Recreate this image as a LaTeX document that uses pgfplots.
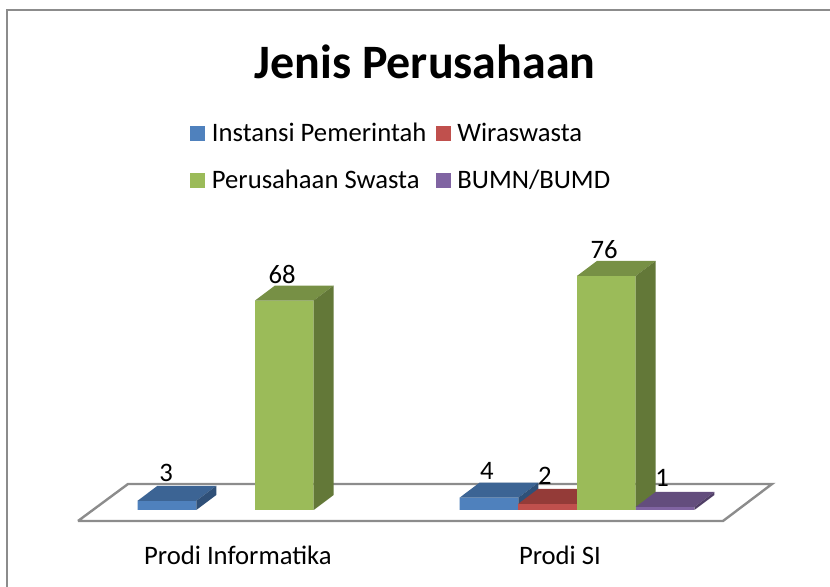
\documentclass[border=0pt]{standalone}
\usepackage{pgfplots}
\pgfplotsset{compat=1.18}
\usepackage{fontspec}
\setmainfont{Carlito}
% front, top and side shades of each series
\definecolor{bluef}{HTML}{4F81BD}
\definecolor{bluet}{HTML}{3C6494}
\definecolor{blues}{HTML}{2F5078}
\definecolor{redf}{HTML}{C0504D}
\definecolor{redt}{HTML}{943B38}
\definecolor{reds}{HTML}{7A302E}
\definecolor{greenf}{HTML}{9BBB59}
\definecolor{greent}{HTML}{779045}
\definecolor{greens}{HTML}{637838}
\definecolor{purplef}{HTML}{8064A2}
\definecolor{purplet}{HTML}{634D7D}
\definecolor{purples}{HTML}{503E66}
\definecolor{framec}{HTML}{8C8C8C}

\begin{document}
\begin{tikzpicture}
\begin{axis}[
    scale only axis,
    width=622.5pt, height=440.25pt,
    xmin=-0.7919, xmax=1.7857,
    ymin=-25, ymax=165.58,
    hide axis,
    clip=true,
    legend columns=2,
    legend cell align=left,
    legend image code/.code={\fill[#1] (0pt,-5.6pt) rectangle (11.25pt,5.6pt);},
    legend style={
        at={(0.2289,0.7955)}, anchor=north west,
        draw=none, fill=none, font=\fontsize{20}{22}\selectfont,
        inner sep=0pt, row sep=16.25pt,
        /tikz/every even column/.append style={column sep=5pt},
        /tikz/every odd column/.append style={column sep=3pt},
    },
]
\coordinate (sw) at (rel axis cs:0,0);
\coordinate (ne) at (rel axis cs:1,1);
% chart frame
\addplot[framec, line width=1.5pt, forget plot] coordinates {
    (-0.770,-25) (-0.770,162.3) (1.7857,162.3)
};
% floor plate
\addplot[fill=white, draw=framec, line width=1.8pt, forget plot] coordinates {
    (-0.5497,-3.57) (1.4534,-3.57) (1.6056,8.44) (-0.3944,8.44) (-0.5497,-3.57)
};

% ── Instansi Pemerintah ──
\addplot[ybar, bar width=0.1823, bar shift=-0.27345, fill=bluef, draw=none] coordinates {(0,3) (1,4)};
\addlegendentry{Instansi Pemerintah}
\addplot[fill=bluet, draw=none, forget plot] coordinates {(-0.3646,3) (-0.1823,3) (-0.1203,7.87) (-0.3026,7.87)};
\addplot[fill=blues, draw=none, forget plot] coordinates {(-0.1823,0) (-0.1823,3) (-0.1203,7.87) (-0.1203,4.87)};
\addplot[fill=bluet, draw=none, forget plot] coordinates {(0.6354,4) (0.8177,4) (0.8797,8.87) (0.6974,8.87)};
\addplot[fill=blues, draw=none, forget plot] coordinates {(0.8177,0) (0.8177,4) (0.8797,8.87) (0.8797,4.87)};

% ── Wiraswasta ── (Prodi Informatika is 0, nothing drawn)
\addplot[ybar, bar width=0.1823, bar shift=-0.09115, fill=redf, draw=none] coordinates {(1,2)};
\addlegendentry{Wiraswasta}
\addplot[fill=redt, draw=none, forget plot] coordinates {(0.8177,2) (1,2) (1.062,6.87) (0.8797,6.87)};
\addplot[fill=reds, draw=none, forget plot] coordinates {(1,0) (1,2) (1.062,6.87) (1.062,4.87)};

% ── Perusahaan Swasta ──
\addplot[ybar, bar width=0.1823, bar shift=0.09115, fill=greenf, draw=none] coordinates {(0,68) (1,76)};
\addlegendentry{Perusahaan Swasta}
\addplot[fill=greent, draw=none, forget plot] coordinates {(0,68) (0.1823,68) (0.2443,72.87) (0.062,72.87)};
\addplot[fill=greens, draw=none, forget plot] coordinates {(0.1823,0) (0.1823,68) (0.2443,72.87) (0.2443,4.87)};
\addplot[fill=greent, draw=none, forget plot] coordinates {(1,76) (1.1823,76) (1.2443,80.87) (1.062,80.87)};
\addplot[fill=greens, draw=none, forget plot] coordinates {(1.1823,0) (1.1823,76) (1.2443,80.87) (1.2443,4.87)};

% ── BUMN/BUMD ── (Prodi Informatika is 0, nothing drawn)
\addplot[ybar, bar width=0.1823, bar shift=0.27345, fill=purplef, draw=none] coordinates {(1,1)};
\addlegendentry{BUMN/BUMD}
\addplot[fill=purplet, draw=none, forget plot] coordinates {(1.1823,1) (1.3646,1) (1.4266,5.87) (1.2443,5.87)};
\addplot[fill=purples, draw=none, forget plot] coordinates {(1.3646,0) (1.3646,1) (1.4266,5.87) (1.4266,4.87)};

% title, value labels, category names
\node[font=\fontsize{36}{40}\selectfont\bfseries] at (axis cs:0.528,145.5) {Jenis Perusahaan};
\begin{scope}[every node/.style={font=\fontsize{20}{22}\selectfont}]
\node at (axis cs:-0.276,12) {3};
\node at (axis cs:0.084,76.3) {68};
\node at (axis cs:1.084,84.4) {76};
\node at (axis cs:0.72,12.7) {4};
\node at (axis cs:0.9,11) {2};
\node at (axis cs:1.264,10.4) {1};
\node at (axis cs:-0.053,-14.6) {Prodi Informatika};
\node at (axis cs:0.947,-14.6) {Prodi SI};
\end{scope}
\end{axis}
\pgfresetboundingbox
\useasboundingbox (sw) rectangle (ne);
\end{tikzpicture}
\end{document}
